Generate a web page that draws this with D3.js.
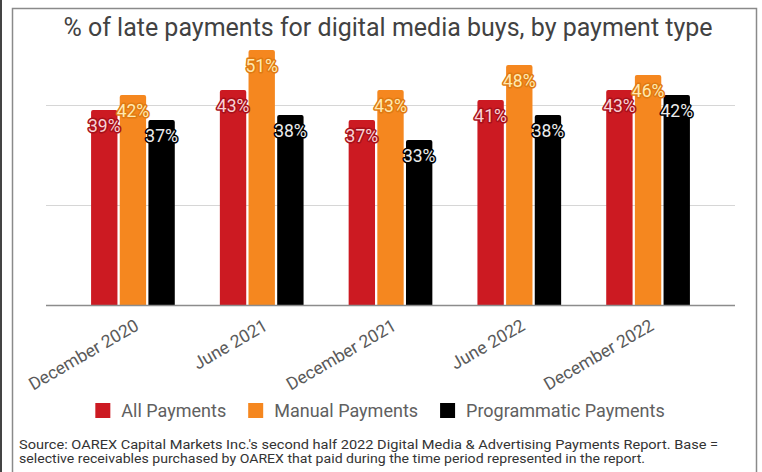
<!DOCTYPE html>
<html>
<head>
<meta charset="utf-8">
<script src="https://cdn.jsdelivr.net/npm/d3@7"></script>
<style>
  html, body { margin: 0; padding: 0; background: #fff; }
  svg { display: block; font-family: Roboto, "Noto Sans", Arial, sans-serif; }
</style>
</head>
<body>
<svg id="chart" width="762" height="472"></svg>
<script>
// Reporting periods and the share of late payments (%) per payment type
const periods = ["December 2020", "June 2021", "December 2021", "June 2022", "December 2022"];
const seriesNames = ["All Payments", "Manual Payments", "Programmatic Payments"];
const allPayments = [39, 43, 37, 41, 43];
const manualPayments = [42, 51, 43, 48, 46];
const programmaticPayments = [37, 38, 33, 38, 42];
const gridTicks = [20, 40];

const seriesValues = [allPayments, manualPayments, programmaticPayments];
const colors = ["#cc1a22", "#f5871f", "#000000"];
const labelFill = ["#f9d2d5", "#ffe9b0", "#ececec"];
const labelStroke = ["#a8101a", "#e07a12", "#000000"];

const title = "% of late payments for digital media buys, by payment type";
const sourceLines = [
  "Source: OAREX Capital Markets Inc.'s second half 2022 Digital Media & Advertising Payments Report. Base =",
  "selective receivables purchased by OAREX that paid during the time period represented in the report."
];

const svg = d3.select("#chart");

// page frame
svg.append("rect").attr("x", 0).attr("y", 0).attr("width", 2).attr("height", 472).attr("fill", "#444");
svg.append("rect").attr("x", 12.5).attr("y", 8.5).attr("width", 744).attr("height", 480)
  .attr("fill", "none").attr("stroke", "#8a8a8a").attr("stroke-width", 1.5);

// title
svg.append("text").attr("x", 388).attr("y", 36).attr("text-anchor", "middle")
  .attr("font-size", 25).attr("fill", "#424242").text(title);

const plot = { left: 46, right: 735, top: 5, bottom: 305 };

const x0 = d3.scaleBand().domain(periods).range([plot.left, plot.right])
  .paddingInner(0.35).paddingOuter(0.35);
const x1 = d3.scaleBand().domain(seriesNames).range([0, x0.bandwidth()]).paddingInner(0.08);
const y = d3.scaleLinear().domain([0, 60]).range([plot.bottom, plot.top]);

// gridlines
svg.append("g").selectAll("line").data(gridTicks).join("line")
  .attr("x1", plot.left).attr("x2", plot.right)
  .attr("y1", d => y(d) + 0.5).attr("y2", d => y(d) + 0.5)
  .attr("stroke", "#d6d6d6").attr("stroke-width", 1);

// bars with slightly rounded tops
const rows = [];
periods.forEach((p, i) => seriesNames.forEach((s, j) => rows.push({ p, s, j, v: seriesValues[j][i] })));

function topRounded(x, yTop, w, yBot, r) {
  return `M${x},${yBot}V${yTop + r}Q${x},${yTop} ${x + r},${yTop}H${x + w - r}Q${x + w},${yTop} ${x + w},${yTop + r}V${yBot}Z`;
}

svg.append("g").selectAll("path").data(rows).join("path")
  .attr("d", d => topRounded(x0(d.p) + x1(d.s), y(d.v), x1.bandwidth(), y(0), 2))
  .attr("fill", d => colors[d.j]);

// x axis baseline
svg.append("line").attr("x1", plot.left).attr("x2", plot.right)
  .attr("y1", y(0) + 0.5).attr("y2", y(0) + 0.5)
  .attr("stroke", "#8c8c8c").attr("stroke-width", 1.6);

// value labels
svg.append("g").selectAll("text").data(rows).join("text")
  .attr("x", d => x0(d.p) + x1(d.s) + x1.bandwidth() / 2)
  .attr("y", d => y(d.v) + 21.5)
  .attr("text-anchor", "middle")
  .attr("font-size", 17.5)
  .attr("fill", d => labelFill[d.j])
  .attr("stroke", d => labelStroke[d.j])
  .attr("stroke-width", 3)
  .attr("stroke-linejoin", "round")
  .attr("paint-order", "stroke")
  .text(d => d.v + "%");

// rotated category labels
svg.append("g").selectAll("text").data(periods).join("text")
  .attr("transform", d => `translate(${x0(d) + x0.bandwidth() / 2 + 7},329) rotate(-30)`)
  .attr("text-anchor", "end")
  .attr("font-size", 17.5)
  .attr("fill", "#5a5a5a")
  .text(d => d);

// legend
const legend = svg.append("g");
let lx = 0;
seriesNames.forEach((name, j) => {
  const g = legend.append("g");
  g.append("rect").attr("x", lx).attr("y", 403).attr("width", 15).attr("height", 15)
    .attr("fill", colors[j]);
  const t = g.append("text").attr("x", lx + 26).attr("y", 417)
    .attr("font-size", 18).attr("fill", "#606060").text(name);
  lx += 26 + t.node().getComputedTextLength() + 22;
});
const legendWidth = lx - 22;
legend.attr("transform", `translate(${380 - legendWidth / 2},0)`);

// source note
const srcLengths = [699, 626];
svg.append("g").selectAll("text").data(sourceLines).join("text")
  .attr("x", 19).attr("y", (d, i) => 449 + i * 14)
  .attr("font-size", 12.5).attr("fill", "#333")
  .attr("textLength", (d, i) => srcLengths[i])
  .attr("lengthAdjust", "spacingAndGlyphs")
  .text(d => d);
</script>
</body>
</html>
